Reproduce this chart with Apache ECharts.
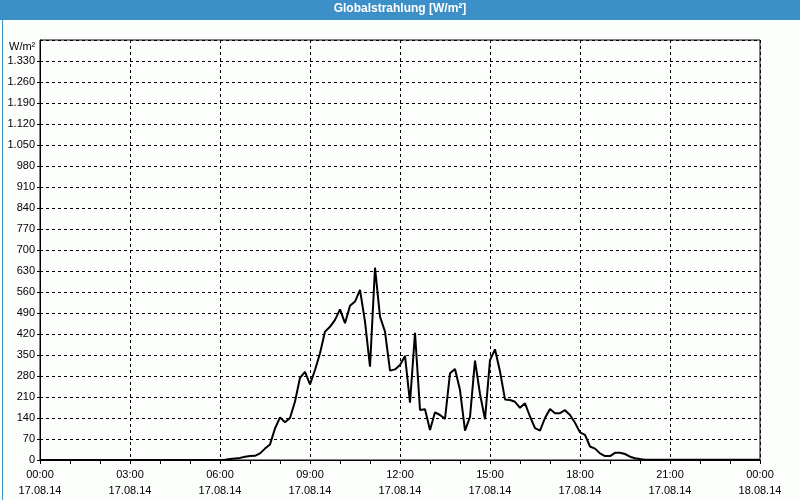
<!DOCTYPE html>
<html>
<head>
<meta charset="utf-8">
<script src="https://cdn.jsdelivr.net/npm/echarts@6/dist/echarts.min.js"></script>
<style>html,body{margin:0;padding:0;background:#fcfefc}#c{width:800px;height:500px}</style>
</head>
<body>
<div id="c"></div>
<script>
// Time step between samples (minutes) and start of the day
const stepMinutes = 10;
// Globalstrahlung values [W/m²], one per 10 minutes, 00:00 17.08.14 .. 00:00 18.08.14
const values = [
  0,0,0,0,0,0,0,0,0,0,
  0,0,0,0,0,0,0,0,0,0,
  0,0,0,0,0,0,0,0,0,0,
  0,0,0,0,0,0,0,1,3,5,
  7,11,13,14,22,38,52,105,142,126,
  140,195,274,294,252,300,356,428,444,467,
  502,456,514,528,567,461,311,641,478,428,
  298,302,317,347,191,424,167,169,100,159,
  150,137,289,303,233,98,144,331,220,136,
  333,369,295,202,200,194,174,189,145,106,
  98,140,170,156,156,166,150,124,92,84,
  45,38,22,13,13,24,24,20,11,6,
  3,1,1,1,1,1,1,1,1,1,
  1,1,1,1,1,1,1,1,1,1,
  1,1,1,1,1
];
const xTickLabels = [
  '00:00\n17.08.14','03:00\n17.08.14','06:00\n17.08.14','09:00\n17.08.14',
  '12:00\n17.08.14','15:00\n17.08.14','18:00\n17.08.14','21:00\n17.08.14',
  '00:00\n18.08.14'
];
const titleText = 'Globalstrahlung [W/m²]';
const unitText = 'W/m²';

const seriesData = values.map((v, i) => [i * stepMinutes, v]);
const font = 'Liberation Sans, Arial, sans-serif';

const chart = echarts.init(document.getElementById('c'));
chart.setOption({
  backgroundColor: '#fcfefc',
  animation: false,
  graphic: [
    { type: 'rect', left: 0, top: 0, z: 0, shape: { width: 800, height: 20 }, style: { fill: '#3d8fc7' } },
    { type: 'rect', left: 0, top: 0, z: 0, shape: { width: 799, height: 499 }, style: { fill: 'none', stroke: '#3d8fc7', lineWidth: 1 } }
  ],
  title: [
    { text: titleText, left: 'center', top: 3, padding: 0, z: 10,
      textStyle: { color: '#ffffff', fontSize: 12, fontWeight: 'bold', fontFamily: font } },
    { text: unitText, left: 9, top: 41, padding: 0,
      textStyle: { color: '#000', fontSize: 11, fontWeight: 'normal', fontFamily: font } }
  ],
  grid: { left: 40, right: 40, top: 40, bottom: 40, show: true, borderColor: '#000', borderWidth: 1, backgroundColor: 'transparent' },
  xAxis: {
    type: 'value', min: 0, max: 1440, interval: 180,
    axisLine: { show: true, lineStyle: { color: '#000', width: 1 } },
    axisTick: { show: true, length: 4, lineStyle: { color: '#000' } },
    minorTick: { show: true, splitNumber: 3, length: 4, lineStyle: { color: '#000' } },
    splitLine: { show: true, lineStyle: { color: '#000', type: [3, 3], width: 1 } },
    axisLabel: {
      color: '#000', fontSize: 11, fontFamily: font, lineHeight: 16, margin: 7,
      showMinLabel: true, showMaxLabel: true,
      formatter: v => xTickLabels[Math.round(v / 180)]
    }
  },
  yAxis: {
    type: 'value', min: 0, max: 1400, interval: 70,
    axisLine: { show: true, lineStyle: { color: '#000', width: 1 } },
    axisTick: { show: true, length: 3, lineStyle: { color: '#000' } },
    splitLine: { show: true, lineStyle: { color: '#000', type: [3, 3], width: 1 } },
    axisLabel: {
      color: '#000', fontSize: 11, fontFamily: font, margin: 5, showMaxLabel: false,
      formatter: v => String(v).replace(/\B(?=(\d{3})+(?!\d))/g, '.')
    }
  },
  series: [{
    type: 'line', data: seriesData, showSymbol: false, symbol: 'none',
    lineStyle: { color: '#000', width: 2 }, z: 5
  }]
});
</script>
</body>
</html>
